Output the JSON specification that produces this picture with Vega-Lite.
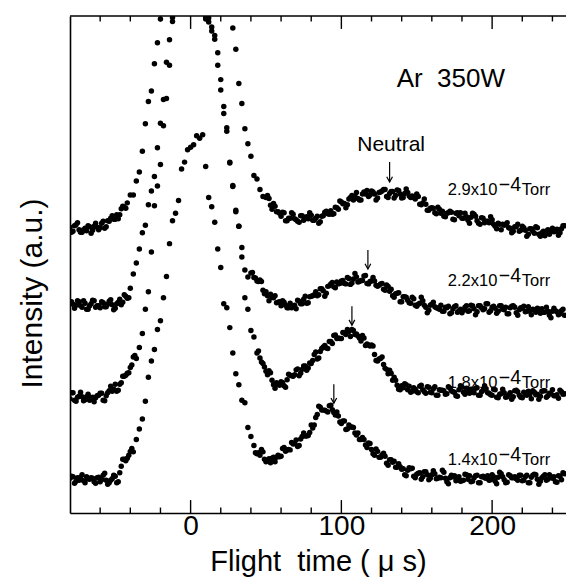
{
"$schema":"https://vega.github.io/schema/vega-lite/v6.json",
"width":496,"height":497,
"autosize":{"type":"none"},
"padding":{"left":70,"top":16,"right":0,"bottom":69},
"background":"white",
"config":{"view":{"stroke":null},"font":"Liberation Sans"},
"resolve":{"axis":{"x":"independent","y":"independent"}},
"layer":[
{"data":{"values":[
{"p":"2.9","t":-80,"v":57.5},{"p":"2.9","t":-78,"v":56.7},{"p":"2.9","t":-76,"v":58.0},{"p":"2.9","t":-74,"v":57.0},{"p":"2.9","t":-72,"v":56.5},{"p":"2.9","t":-70,"v":57.3},{"p":"2.9","t":-68,"v":57.8},{"p":"2.9","t":-66,"v":56.3},{"p":"2.9","t":-64,"v":57.7},{"p":"2.9","t":-62,"v":57.5},{"p":"2.9","t":-60,"v":57.4},{"p":"2.9","t":-58,"v":58.7},{"p":"2.9","t":-56,"v":57.6},{"p":"2.9","t":-54,"v":58.7},{"p":"2.9","t":-52,"v":59.8},{"p":"2.9","t":-50,"v":59.1},{"p":"2.9","t":-48,"v":59.2},{"p":"2.9","t":-46,"v":61.2},{"p":"2.9","t":-44,"v":61.5},{"p":"2.9","t":-42,"v":62.4},{"p":"2.9","t":-40,"v":64.0},{"p":"2.9","t":-38,"v":64.0},{"p":"2.9","t":-36,"v":66.8},{"p":"2.9","t":-34,"v":68.6},{"p":"2.9","t":-32,"v":72.8},{"p":"2.9","t":-30,"v":78.3},{"p":"2.9","t":-28,"v":82.8},{"p":"2.9","t":-26,"v":84.9},{"p":"2.9","t":-24,"v":90.4},{"p":"2.9","t":-22,"v":94.6},{"p":"2.9","t":-20,"v":99.4},
{"p":"2.9","t":28,"v":97.6},{"p":"2.9","t":30,"v":93.3},{"p":"2.9","t":32,"v":86.4},{"p":"2.9","t":34,"v":82.4},{"p":"2.9","t":36,"v":77.3},{"p":"2.9","t":38,"v":74.3},{"p":"2.9","t":40,"v":71.8},{"p":"2.9","t":42,"v":67.9},{"p":"2.9","t":44,"v":67.2},{"p":"2.9","t":46,"v":65.1},{"p":"2.9","t":48,"v":63.7},{"p":"2.9","t":50,"v":63.5},{"p":"2.9","t":52,"v":63.3},{"p":"2.9","t":54,"v":61.1},{"p":"2.9","t":56,"v":61.7},{"p":"2.9","t":58,"v":60.6},{"p":"2.9","t":60,"v":59.7},{"p":"2.9","t":62,"v":60.4},{"p":"2.9","t":64,"v":58.8},{"p":"2.9","t":66,"v":59.3},{"p":"2.9","t":68,"v":60.1},{"p":"2.9","t":70,"v":59.0},{"p":"2.9","t":72,"v":58.5},{"p":"2.9","t":74,"v":59.8},{"p":"2.9","t":76,"v":59.4},{"p":"2.9","t":78,"v":59.2},{"p":"2.9","t":80,"v":59.9},{"p":"2.9","t":82,"v":58.9},{"p":"2.9","t":84,"v":59.7},{"p":"2.9","t":86,"v":58.6},{"p":"2.9","t":88,"v":59.8},{"p":"2.9","t":90,"v":60.7},{"p":"2.9","t":92,"v":60.1},{"p":"2.9","t":94,"v":60.1},{"p":"2.9","t":96,"v":61.5},{"p":"2.9","t":98,"v":61.1},{"p":"2.9","t":100,"v":62.6},{"p":"2.9","t":102,"v":62.3},{"p":"2.9","t":104,"v":62.0},{"p":"2.9","t":106,"v":63.5},{"p":"2.9","t":108,"v":63.0},{"p":"2.9","t":110,"v":64.5},{"p":"2.9","t":112,"v":63.0},{"p":"2.9","t":114,"v":64.2},{"p":"2.9","t":116,"v":64.2},{"p":"2.9","t":118,"v":63.7},{"p":"2.9","t":120,"v":64.8},{"p":"2.9","t":122,"v":64.2},{"p":"2.9","t":124,"v":63.4},{"p":"2.9","t":126,"v":64.6},{"p":"2.9","t":128,"v":65.1},{"p":"2.9","t":130,"v":63.7},{"p":"2.9","t":132,"v":64.3},{"p":"2.9","t":134,"v":64.7},{"p":"2.9","t":136,"v":63.9},{"p":"2.9","t":138,"v":64.9},{"p":"2.9","t":140,"v":63.4},{"p":"2.9","t":142,"v":64.3},{"p":"2.9","t":144,"v":64.5},{"p":"2.9","t":146,"v":63.5},{"p":"2.9","t":148,"v":63.5},{"p":"2.9","t":150,"v":64.2},{"p":"2.9","t":152,"v":62.1},{"p":"2.9","t":154,"v":62.4},{"p":"2.9","t":156,"v":62.1},{"p":"2.9","t":158,"v":60.9},{"p":"2.9","t":160,"v":61.4},{"p":"2.9","t":162,"v":60.4},{"p":"2.9","t":164,"v":61.5},{"p":"2.9","t":166,"v":60.3},{"p":"2.9","t":168,"v":59.7},{"p":"2.9","t":170,"v":60.3},{"p":"2.9","t":172,"v":60.7},{"p":"2.9","t":174,"v":59.1},{"p":"2.9","t":176,"v":60.3},{"p":"2.9","t":178,"v":59.8},{"p":"2.9","t":180,"v":59.3},{"p":"2.9","t":182,"v":60.3},{"p":"2.9","t":184,"v":58.9},{"p":"2.9","t":186,"v":59.5},{"p":"2.9","t":188,"v":60.1},{"p":"2.9","t":190,"v":58.8},{"p":"2.9","t":192,"v":58.1},{"p":"2.9","t":194,"v":59.3},{"p":"2.9","t":196,"v":58.7},{"p":"2.9","t":198,"v":58.4},{"p":"2.9","t":200,"v":59.0},{"p":"2.9","t":202,"v":57.7},{"p":"2.9","t":204,"v":58.3},{"p":"2.9","t":206,"v":57.0},{"p":"2.9","t":208,"v":57.9},{"p":"2.9","t":210,"v":58.4},{"p":"2.9","t":212,"v":57.3},{"p":"2.9","t":214,"v":56.7},{"p":"2.9","t":216,"v":57.6},{"p":"2.9","t":218,"v":56.7},{"p":"2.9","t":220,"v":57.7},{"p":"2.9","t":222,"v":56.9},{"p":"2.9","t":224,"v":56.1},{"p":"2.9","t":226,"v":57.2},{"p":"2.9","t":228,"v":56.3},{"p":"2.9","t":230,"v":57.4},{"p":"2.9","t":232,"v":55.7},{"p":"2.9","t":234,"v":56.7},{"p":"2.9","t":236,"v":56.7},{"p":"2.9","t":238,"v":56.1},{"p":"2.9","t":240,"v":57.3},{"p":"2.9","t":242,"v":56.7},{"p":"2.9","t":244,"v":55.9},{"p":"2.9","t":246,"v":57.2},{"p":"2.9","t":248,"v":57.8},
{"p":"2.9","t":-79,"v":56.5},{"p":"2.9","t":-77,"v":57.8},{"p":"2.9","t":-75,"v":58.4},{"p":"2.9","t":-73,"v":56.5},{"p":"2.9","t":-71,"v":57.0},{"p":"2.9","t":-69,"v":56.8},{"p":"2.9","t":-67,"v":57.6},{"p":"2.9","t":-65,"v":56.9},{"p":"2.9","t":-63,"v":58.3},{"p":"2.9","t":-61,"v":57.0},{"p":"2.9","t":-59,"v":58.3},{"p":"2.9","t":-57,"v":57.3},{"p":"2.9","t":-55,"v":58.8},{"p":"2.9","t":-53,"v":59.3},{"p":"2.9","t":-51,"v":59.1},{"p":"2.9","t":-49,"v":60.0},{"p":"2.9","t":-47,"v":60.0},{"p":"2.9","t":-45,"v":61.7},{"p":"2.9","t":-43,"v":61.3},
{"p":"2.9","t":51,"v":63.9},{"p":"2.9","t":53,"v":61.9},{"p":"2.9","t":55,"v":62.3},{"p":"2.9","t":57,"v":60.6},{"p":"2.9","t":59,"v":60.3},{"p":"2.9","t":61,"v":60.5},{"p":"2.9","t":63,"v":58.8},{"p":"2.9","t":65,"v":59.3},{"p":"2.9","t":67,"v":60.4},{"p":"2.9","t":69,"v":59.2},{"p":"2.9","t":71,"v":58.7},{"p":"2.9","t":73,"v":59.8},{"p":"2.9","t":75,"v":58.9},{"p":"2.9","t":77,"v":59.6},{"p":"2.9","t":79,"v":60.4},{"p":"2.9","t":81,"v":58.9},{"p":"2.9","t":83,"v":59.3},{"p":"2.9","t":85,"v":58.3},{"p":"2.9","t":87,"v":59.7},{"p":"2.9","t":89,"v":60.5},{"p":"2.9","t":91,"v":60.2},{"p":"2.9","t":93,"v":60.8},{"p":"2.9","t":95,"v":60.2},{"p":"2.9","t":97,"v":61.4},{"p":"2.9","t":99,"v":62.8},{"p":"2.9","t":101,"v":62.2},{"p":"2.9","t":103,"v":61.4},{"p":"2.9","t":105,"v":63.2},{"p":"2.9","t":107,"v":63.9},{"p":"2.9","t":109,"v":63.7},{"p":"2.9","t":111,"v":63.3},{"p":"2.9","t":113,"v":63.0},{"p":"2.9","t":115,"v":64.6},{"p":"2.9","t":117,"v":64.9},{"p":"2.9","t":119,"v":64.0},{"p":"2.9","t":121,"v":64.6},{"p":"2.9","t":123,"v":63.0},{"p":"2.9","t":125,"v":64.5},{"p":"2.9","t":127,"v":64.8},{"p":"2.9","t":129,"v":65.1},{"p":"2.9","t":131,"v":63.5},{"p":"2.9","t":133,"v":64.7},{"p":"2.9","t":135,"v":63.4},{"p":"2.9","t":137,"v":65.0},{"p":"2.9","t":139,"v":64.2},{"p":"2.9","t":141,"v":63.5},{"p":"2.9","t":143,"v":65.2},{"p":"2.9","t":145,"v":63.8},{"p":"2.9","t":147,"v":63.8},{"p":"2.9","t":149,"v":63.2},{"p":"2.9","t":151,"v":63.7},{"p":"2.9","t":153,"v":62.0},{"p":"2.9","t":155,"v":63.2},{"p":"2.9","t":157,"v":60.9},{"p":"2.9","t":159,"v":61.3},{"p":"2.9","t":161,"v":61.3},{"p":"2.9","t":163,"v":60.2},{"p":"2.9","t":165,"v":61.1},{"p":"2.9","t":167,"v":60.7},{"p":"2.9","t":169,"v":59.6},{"p":"2.9","t":171,"v":60.4},{"p":"2.9","t":173,"v":60.5},{"p":"2.9","t":175,"v":59.0},{"p":"2.9","t":177,"v":60.4},{"p":"2.9","t":179,"v":60.4},{"p":"2.9","t":181,"v":59.3},{"p":"2.9","t":183,"v":59.6},{"p":"2.9","t":185,"v":58.3},{"p":"2.9","t":187,"v":60.3},{"p":"2.9","t":189,"v":59.7},{"p":"2.9","t":191,"v":58.3},{"p":"2.9","t":193,"v":59.4},{"p":"2.9","t":195,"v":58.4},{"p":"2.9","t":197,"v":58.7},{"p":"2.9","t":199,"v":59.6},{"p":"2.9","t":201,"v":58.1},{"p":"2.9","t":203,"v":57.2},{"p":"2.9","t":205,"v":58.1},{"p":"2.9","t":207,"v":58.1},{"p":"2.9","t":209,"v":58.1},{"p":"2.9","t":211,"v":57.4},{"p":"2.9","t":213,"v":56.4},{"p":"2.9","t":215,"v":57.6},{"p":"2.9","t":217,"v":58.1},{"p":"2.9","t":219,"v":56.9},{"p":"2.9","t":221,"v":57.4},{"p":"2.9","t":223,"v":55.7},{"p":"2.9","t":225,"v":57.2},{"p":"2.9","t":227,"v":56.7},{"p":"2.9","t":229,"v":57.6},{"p":"2.9","t":231,"v":56.1},{"p":"2.9","t":233,"v":56.4},{"p":"2.9","t":235,"v":55.8},{"p":"2.9","t":237,"v":57.0},{"p":"2.9","t":239,"v":56.7},{"p":"2.9","t":241,"v":56.6},{"p":"2.9","t":243,"v":57.1},{"p":"2.9","t":245,"v":56.4},{"p":"2.9","t":247,"v":57.8},
{"p":"2.2","t":-80,"v":42.4},{"p":"2.2","t":-78,"v":42.0},{"p":"2.2","t":-76,"v":41.8},{"p":"2.2","t":-74,"v":42.5},{"p":"2.2","t":-72,"v":41.4},{"p":"2.2","t":-70,"v":42.2},{"p":"2.2","t":-68,"v":41.0},{"p":"2.2","t":-66,"v":42.1},{"p":"2.2","t":-64,"v":42.7},{"p":"2.2","t":-62,"v":41.7},{"p":"2.2","t":-60,"v":41.3},{"p":"2.2","t":-58,"v":42.3},{"p":"2.2","t":-56,"v":41.5},{"p":"2.2","t":-54,"v":42.6},{"p":"2.2","t":-52,"v":41.9},{"p":"2.2","t":-50,"v":41.2},{"p":"2.2","t":-48,"v":42.4},{"p":"2.2","t":-46,"v":41.9},{"p":"2.2","t":-44,"v":43.9},{"p":"2.2","t":-42,"v":43.2},{"p":"2.2","t":-40,"v":45.2},{"p":"2.2","t":-38,"v":48.1},{"p":"2.2","t":-36,"v":50.3},{"p":"2.2","t":-34,"v":53.1},{"p":"2.2","t":-32,"v":56.4},{"p":"2.2","t":-30,"v":57.9},{"p":"2.2","t":-28,"v":62.0},{"p":"2.2","t":-26,"v":64.8},{"p":"2.2","t":-24,"v":67.7},{"p":"2.2","t":-22,"v":73.5},{"p":"2.2","t":-20,"v":78.4},{"p":"2.2","t":-18,"v":83.2},{"p":"2.2","t":-16,"v":90.7},{"p":"2.2","t":-14,"v":95.2},{"p":"2.2","t":-12,"v":99.7},
{"p":"2.2","t":10,"v":99.7},{"p":"2.2","t":12,"v":98.8},{"p":"2.2","t":14,"v":97.8},{"p":"2.2","t":16,"v":96.1},{"p":"2.2","t":18,"v":92.6},{"p":"2.2","t":20,"v":85.1},{"p":"2.2","t":22,"v":80.4},{"p":"2.2","t":24,"v":77.5},{"p":"2.2","t":26,"v":70.6},{"p":"2.2","t":28,"v":65.7},{"p":"2.2","t":30,"v":60.9},{"p":"2.2","t":32,"v":57.7},{"p":"2.2","t":34,"v":53.4},{"p":"2.2","t":36,"v":48.9},{"p":"2.2","t":38,"v":47.5},{"p":"2.2","t":40,"v":48.3},{"p":"2.2","t":42,"v":47.4},{"p":"2.2","t":44,"v":46.7},{"p":"2.2","t":46,"v":46.9},{"p":"2.2","t":48,"v":44.8},{"p":"2.2","t":50,"v":44.5},{"p":"2.2","t":52,"v":42.7},{"p":"2.2","t":54,"v":43.4},{"p":"2.2","t":56,"v":43.7},{"p":"2.2","t":58,"v":42.4},{"p":"2.2","t":60,"v":41.7},{"p":"2.2","t":62,"v":42.4},{"p":"2.2","t":64,"v":41.3},{"p":"2.2","t":66,"v":42.2},{"p":"2.2","t":68,"v":41.6},{"p":"2.2","t":70,"v":41.1},{"p":"2.2","t":72,"v":42.6},{"p":"2.2","t":74,"v":42.1},{"p":"2.2","t":76,"v":43.6},{"p":"2.2","t":78,"v":42.3},{"p":"2.2","t":80,"v":43.6},{"p":"2.2","t":82,"v":43.9},{"p":"2.2","t":84,"v":43.7},{"p":"2.2","t":86,"v":45.1},{"p":"2.2","t":88,"v":44.7},{"p":"2.2","t":90,"v":44.2},{"p":"2.2","t":92,"v":45.7},{"p":"2.2","t":94,"v":46.4},{"p":"2.2","t":96,"v":45.3},{"p":"2.2","t":98,"v":46.1},{"p":"2.2","t":100,"v":46.7},{"p":"2.2","t":102,"v":46.2},{"p":"2.2","t":104,"v":47.4},{"p":"2.2","t":106,"v":46.0},{"p":"2.2","t":108,"v":47.1},{"p":"2.2","t":110,"v":47.5},{"p":"2.2","t":112,"v":46.6},{"p":"2.2","t":114,"v":46.8},{"p":"2.2","t":116,"v":47.8},{"p":"2.2","t":118,"v":46.1},{"p":"2.2","t":120,"v":46.7},{"p":"2.2","t":122,"v":46.7},{"p":"2.2","t":124,"v":45.6},{"p":"2.2","t":126,"v":46.1},{"p":"2.2","t":128,"v":45.0},{"p":"2.2","t":130,"v":45.9},{"p":"2.2","t":132,"v":44.6},{"p":"2.2","t":134,"v":43.7},{"p":"2.2","t":136,"v":44.1},{"p":"2.2","t":138,"v":44.3},{"p":"2.2","t":140,"v":42.5},{"p":"2.2","t":142,"v":43.5},{"p":"2.2","t":144,"v":42.8},{"p":"2.2","t":146,"v":42.2},{"p":"2.2","t":148,"v":43.1},{"p":"2.2","t":150,"v":41.6},{"p":"2.2","t":152,"v":42.2},{"p":"2.2","t":154,"v":42.7},{"p":"2.2","t":156,"v":41.4},{"p":"2.2","t":158,"v":40.8},{"p":"2.2","t":160,"v":42.0},{"p":"2.2","t":162,"v":41.5},{"p":"2.2","t":164,"v":41.2},{"p":"2.2","t":166,"v":41.8},{"p":"2.2","t":168,"v":40.6},{"p":"2.2","t":170,"v":41.3},{"p":"2.2","t":172,"v":40.1},{"p":"2.2","t":174,"v":41.1},{"p":"2.2","t":176,"v":41.7},{"p":"2.2","t":178,"v":40.7},{"p":"2.2","t":180,"v":40.3},{"p":"2.2","t":182,"v":41.4},{"p":"2.2","t":184,"v":40.6},{"p":"2.2","t":186,"v":41.8},{"p":"2.2","t":188,"v":41.1},{"p":"2.2","t":190,"v":40.5},{"p":"2.2","t":192,"v":41.7},{"p":"2.2","t":194,"v":40.9},{"p":"2.2","t":196,"v":42.1},{"p":"2.2","t":198,"v":40.4},{"p":"2.2","t":200,"v":41.4},{"p":"2.2","t":202,"v":41.2},{"p":"2.2","t":204,"v":40.6},{"p":"2.2","t":206,"v":41.7},{"p":"2.2","t":208,"v":40.9},{"p":"2.2","t":210,"v":40.1},{"p":"2.2","t":212,"v":41.3},{"p":"2.2","t":214,"v":41.7},{"p":"2.2","t":216,"v":40.3},{"p":"2.2","t":218,"v":40.9},{"p":"2.2","t":220,"v":41.2},{"p":"2.2","t":222,"v":40.5},{"p":"2.2","t":224,"v":41.5},{"p":"2.2","t":226,"v":39.9},{"p":"2.2","t":228,"v":40.9},{"p":"2.2","t":230,"v":41.2},{"p":"2.2","t":232,"v":40.2},{"p":"2.2","t":234,"v":40.4},{"p":"2.2","t":236,"v":41.4},{"p":"2.2","t":238,"v":39.8},{"p":"2.2","t":240,"v":40.6},{"p":"2.2","t":242,"v":40.7},{"p":"2.2","t":244,"v":39.9},{"p":"2.2","t":246,"v":40.7},{"p":"2.2","t":248,"v":39.8},
{"p":"2.2","t":-79,"v":42.5},{"p":"2.2","t":-77,"v":41.2},{"p":"2.2","t":-75,"v":42.7},{"p":"2.2","t":-73,"v":41.7},{"p":"2.2","t":-71,"v":42.7},{"p":"2.2","t":-69,"v":41.0},{"p":"2.2","t":-67,"v":41.7},{"p":"2.2","t":-65,"v":42.8},{"p":"2.2","t":-63,"v":41.4},{"p":"2.2","t":-61,"v":41.7},{"p":"2.2","t":-59,"v":42.5},{"p":"2.2","t":-57,"v":41.5},{"p":"2.2","t":-55,"v":42.0},{"p":"2.2","t":-53,"v":42.9},{"p":"2.2","t":-51,"v":40.9},{"p":"2.2","t":-49,"v":42.1},{"p":"2.2","t":-47,"v":43.0},{"p":"2.2","t":-45,"v":42.4},{"p":"2.2","t":-43,"v":43.6},{"p":"2.2","t":-41,"v":43.3},
{"p":"2.2","t":41,"v":48.4},{"p":"2.2","t":43,"v":47.3},{"p":"2.2","t":45,"v":46.6},{"p":"2.2","t":47,"v":46.6},{"p":"2.2","t":49,"v":44.1},{"p":"2.2","t":51,"v":43.7},{"p":"2.2","t":53,"v":44.0},{"p":"2.2","t":55,"v":43.3},{"p":"2.2","t":57,"v":42.3},{"p":"2.2","t":59,"v":42.5},{"p":"2.2","t":61,"v":42.7},{"p":"2.2","t":63,"v":41.8},{"p":"2.2","t":65,"v":41.3},{"p":"2.2","t":67,"v":41.3},{"p":"2.2","t":69,"v":41.8},{"p":"2.2","t":71,"v":42.8},{"p":"2.2","t":73,"v":42.1},{"p":"2.2","t":75,"v":43.0},{"p":"2.2","t":77,"v":42.2},{"p":"2.2","t":79,"v":43.5},{"p":"2.2","t":81,"v":43.7},{"p":"2.2","t":83,"v":44.5},{"p":"2.2","t":85,"v":43.9},{"p":"2.2","t":87,"v":45.1},{"p":"2.2","t":89,"v":43.6},{"p":"2.2","t":91,"v":45.6},{"p":"2.2","t":93,"v":46.1},{"p":"2.2","t":95,"v":45.5},{"p":"2.2","t":97,"v":46.5},{"p":"2.2","t":99,"v":46.2},{"p":"2.2","t":101,"v":46.8},{"p":"2.2","t":103,"v":46.1},{"p":"2.2","t":105,"v":47.2},{"p":"2.2","t":107,"v":46.3},{"p":"2.2","t":109,"v":48.2},{"p":"2.2","t":111,"v":46.5},{"p":"2.2","t":113,"v":46.8},{"p":"2.2","t":115,"v":47.7},{"p":"2.2","t":117,"v":46.2},{"p":"2.2","t":119,"v":46.6},{"p":"2.2","t":121,"v":47.4},{"p":"2.2","t":123,"v":45.8},{"p":"2.2","t":125,"v":45.8},{"p":"2.2","t":127,"v":46.2},{"p":"2.2","t":129,"v":44.8},{"p":"2.2","t":131,"v":45.6},{"p":"2.2","t":133,"v":45.0},{"p":"2.2","t":135,"v":43.4},{"p":"2.2","t":137,"v":44.2},{"p":"2.2","t":139,"v":42.5},{"p":"2.2","t":141,"v":43.5},{"p":"2.2","t":143,"v":43.4},{"p":"2.2","t":145,"v":42.3},{"p":"2.2","t":147,"v":43.4},{"p":"2.2","t":149,"v":41.8},{"p":"2.2","t":151,"v":42.0},{"p":"2.2","t":153,"v":43.4},{"p":"2.2","t":155,"v":41.8},{"p":"2.2","t":157,"v":40.3},{"p":"2.2","t":159,"v":41.8},{"p":"2.2","t":161,"v":42.4},{"p":"2.2","t":163,"v":41.3},{"p":"2.2","t":165,"v":41.0},{"p":"2.2","t":167,"v":40.6},{"p":"2.2","t":169,"v":41.4},{"p":"2.2","t":171,"v":41.6},{"p":"2.2","t":173,"v":40.3},{"p":"2.2","t":175,"v":41.5},{"p":"2.2","t":177,"v":40.4},{"p":"2.2","t":179,"v":41.0},{"p":"2.2","t":181,"v":40.8},{"p":"2.2","t":183,"v":41.7},{"p":"2.2","t":185,"v":40.7},{"p":"2.2","t":187,"v":41.7},{"p":"2.2","t":189,"v":39.9},{"p":"2.2","t":191,"v":41.7},{"p":"2.2","t":193,"v":41.3},{"p":"2.2","t":195,"v":41.1},{"p":"2.2","t":197,"v":42.1},{"p":"2.2","t":199,"v":40.7},{"p":"2.2","t":201,"v":41.6},{"p":"2.2","t":203,"v":40.2},{"p":"2.2","t":205,"v":41.7},{"p":"2.2","t":207,"v":41.0},{"p":"2.2","t":209,"v":41.4},{"p":"2.2","t":211,"v":40.1},{"p":"2.2","t":213,"v":41.6},{"p":"2.2","t":215,"v":41.4},{"p":"2.2","t":217,"v":39.8},{"p":"2.2","t":219,"v":41.3},{"p":"2.2","t":221,"v":41.6},{"p":"2.2","t":223,"v":40.6},{"p":"2.2","t":225,"v":40.6},{"p":"2.2","t":227,"v":41.0},{"p":"2.2","t":229,"v":40.4},{"p":"2.2","t":231,"v":41.0},{"p":"2.2","t":233,"v":41.1},{"p":"2.2","t":235,"v":40.4},{"p":"2.2","t":237,"v":40.6},{"p":"2.2","t":239,"v":39.3},{"p":"2.2","t":241,"v":41.2},{"p":"2.2","t":243,"v":40.5},{"p":"2.2","t":245,"v":40.1},{"p":"2.2","t":247,"v":41.0},
{"p":"1.8","t":-80,"v":23.0},{"p":"1.8","t":-78,"v":24.2},{"p":"1.8","t":-76,"v":22.5},{"p":"1.8","t":-74,"v":23.5},{"p":"1.8","t":-72,"v":23.4},{"p":"1.8","t":-70,"v":22.8},{"p":"1.8","t":-68,"v":23.9},{"p":"1.8","t":-66,"v":23.2},{"p":"1.8","t":-64,"v":22.4},{"p":"1.8","t":-62,"v":23.6},{"p":"1.8","t":-60,"v":24.1},{"p":"1.8","t":-58,"v":22.7},{"p":"1.8","t":-56,"v":23.6},{"p":"1.8","t":-54,"v":24.6},{"p":"1.8","t":-52,"v":24.5},{"p":"1.8","t":-50,"v":25.9},{"p":"1.8","t":-48,"v":24.7},{"p":"1.8","t":-46,"v":26.2},{"p":"1.8","t":-44,"v":27.5},{"p":"1.8","t":-42,"v":28.1},{"p":"1.8","t":-40,"v":29.3},{"p":"1.8","t":-38,"v":31.4},{"p":"1.8","t":-36,"v":31.1},{"p":"1.8","t":-34,"v":33.3},{"p":"1.8","t":-32,"v":36.1},{"p":"1.8","t":-30,"v":41.0},{"p":"1.8","t":-28,"v":44.5},{"p":"1.8","t":-26,"v":52.5},{"p":"1.8","t":-24,"v":61.8},{"p":"1.8","t":-22,"v":65.8},{"p":"1.8","t":-20,"v":70.1},{"p":"1.8","t":-18,"v":77.9},{"p":"1.8","t":-16,"v":83.4},{"p":"1.8","t":-14,"v":90.1},{"p":"1.8","t":-12,"v":98.9},
{"p":"1.8","t":10,"v":99.4},{"p":"1.8","t":12,"v":99.6},{"p":"1.8","t":14,"v":97.0},{"p":"1.8","t":16,"v":95.3},{"p":"1.8","t":18,"v":90.1},{"p":"1.8","t":20,"v":87.2},{"p":"1.8","t":22,"v":81.8},{"p":"1.8","t":24,"v":76.8},{"p":"1.8","t":26,"v":70.4},{"p":"1.8","t":28,"v":65.9},{"p":"1.8","t":30,"v":60.6},{"p":"1.8","t":32,"v":57.7},{"p":"1.8","t":34,"v":51.5},{"p":"1.8","t":36,"v":43.3},{"p":"1.8","t":38,"v":41.0},{"p":"1.8","t":40,"v":36.7},{"p":"1.8","t":42,"v":35.4},{"p":"1.8","t":44,"v":32.2},{"p":"1.8","t":46,"v":31.2},{"p":"1.8","t":48,"v":30.1},{"p":"1.8","t":50,"v":28.5},{"p":"1.8","t":52,"v":28.6},{"p":"1.8","t":54,"v":26.7},{"p":"1.8","t":56,"v":25.1},{"p":"1.8","t":58,"v":25.9},{"p":"1.8","t":60,"v":26.4},{"p":"1.8","t":62,"v":25.6},{"p":"1.8","t":64,"v":26.8},{"p":"1.8","t":66,"v":27.7},{"p":"1.8","t":68,"v":27.5},{"p":"1.8","t":70,"v":28.8},{"p":"1.8","t":72,"v":27.6},{"p":"1.8","t":74,"v":28.9},{"p":"1.8","t":76,"v":29.6},{"p":"1.8","t":78,"v":29.2},{"p":"1.8","t":80,"v":30.1},{"p":"1.8","t":82,"v":31.9},{"p":"1.8","t":84,"v":31.0},{"p":"1.8","t":86,"v":32.5},{"p":"1.8","t":88,"v":33.4},{"p":"1.8","t":90,"v":33.2},{"p":"1.8","t":92,"v":34.5},{"p":"1.8","t":94,"v":34.1},{"p":"1.8","t":96,"v":35.8},{"p":"1.8","t":98,"v":35.2},{"p":"1.8","t":100,"v":35.1},{"p":"1.8","t":102,"v":36.2},{"p":"1.8","t":104,"v":36.9},{"p":"1.8","t":106,"v":35.5},{"p":"1.8","t":108,"v":36.7},{"p":"1.8","t":110,"v":36.0},{"p":"1.8","t":112,"v":35.2},{"p":"1.8","t":114,"v":35.7},{"p":"1.8","t":116,"v":33.7},{"p":"1.8","t":118,"v":33.8},{"p":"1.8","t":120,"v":33.8},{"p":"1.8","t":122,"v":31.9},{"p":"1.8","t":124,"v":30.6},{"p":"1.8","t":126,"v":31.1},{"p":"1.8","t":128,"v":29.9},{"p":"1.8","t":130,"v":28.9},{"p":"1.8","t":132,"v":28.7},{"p":"1.8","t":134,"v":26.7},{"p":"1.8","t":136,"v":26.7},{"p":"1.8","t":138,"v":24.9},{"p":"1.8","t":140,"v":25.6},{"p":"1.8","t":142,"v":26.0},{"p":"1.8","t":144,"v":24.8},{"p":"1.8","t":146,"v":24.3},{"p":"1.8","t":148,"v":25.2},{"p":"1.8","t":150,"v":24.4},{"p":"1.8","t":152,"v":25.5},{"p":"1.8","t":154,"v":24.8},{"p":"1.8","t":156,"v":24.1},{"p":"1.8","t":158,"v":25.3},{"p":"1.8","t":160,"v":24.2},{"p":"1.8","t":162,"v":25.4},{"p":"1.8","t":164,"v":23.7},{"p":"1.8","t":166,"v":24.7},{"p":"1.8","t":168,"v":24.6},{"p":"1.8","t":170,"v":24.0},{"p":"1.8","t":172,"v":25.1},{"p":"1.8","t":174,"v":24.4},{"p":"1.8","t":176,"v":23.6},{"p":"1.8","t":178,"v":24.8},{"p":"1.8","t":180,"v":25.3},{"p":"1.8","t":182,"v":23.9},{"p":"1.8","t":184,"v":24.5},{"p":"1.8","t":186,"v":24.9},{"p":"1.8","t":188,"v":24.2},{"p":"1.8","t":190,"v":25.2},{"p":"1.8","t":192,"v":23.7},{"p":"1.8","t":194,"v":24.7},{"p":"1.8","t":196,"v":25.0},{"p":"1.8","t":198,"v":24.1},{"p":"1.8","t":200,"v":23.7},{"p":"1.8","t":202,"v":24.8},{"p":"1.8","t":204,"v":23.2},{"p":"1.8","t":206,"v":24.0},{"p":"1.8","t":208,"v":24.2},{"p":"1.8","t":210,"v":23.4},{"p":"1.8","t":212,"v":24.2},{"p":"1.8","t":214,"v":23.4},{"p":"1.8","t":216,"v":24.7},{"p":"1.8","t":218,"v":23.7},{"p":"1.8","t":220,"v":23.2},{"p":"1.8","t":222,"v":24.0},{"p":"1.8","t":224,"v":24.5},{"p":"1.8","t":226,"v":23.0},{"p":"1.8","t":228,"v":24.3},{"p":"1.8","t":230,"v":23.9},{"p":"1.8","t":232,"v":23.5},{"p":"1.8","t":234,"v":24.6},{"p":"1.8","t":236,"v":23.3},{"p":"1.8","t":238,"v":24.1},{"p":"1.8","t":240,"v":24.8},{"p":"1.8","t":242,"v":23.6},{"p":"1.8","t":244,"v":23.1},{"p":"1.8","t":246,"v":24.4},{"p":"1.8","t":248,"v":24.0},
{"p":"1.8","t":-79,"v":24.2},{"p":"1.8","t":-77,"v":22.7},{"p":"1.8","t":-75,"v":23.3},{"p":"1.8","t":-73,"v":24.3},{"p":"1.8","t":-71,"v":22.6},{"p":"1.8","t":-69,"v":23.4},{"p":"1.8","t":-67,"v":22.7},{"p":"1.8","t":-65,"v":23.3},{"p":"1.8","t":-63,"v":23.2},{"p":"1.8","t":-61,"v":23.7},{"p":"1.8","t":-59,"v":24.1},{"p":"1.8","t":-57,"v":22.6},{"p":"1.8","t":-55,"v":24.2},{"p":"1.8","t":-53,"v":25.5},{"p":"1.8","t":-51,"v":24.9},{"p":"1.8","t":-49,"v":24.5},{"p":"1.8","t":-47,"v":25.9},{"p":"1.8","t":-45,"v":27.5},{"p":"1.8","t":-43,"v":27.7},{"p":"1.8","t":-41,"v":28.2},{"p":"1.8","t":-39,"v":29.8},{"p":"1.8","t":-37,"v":31.7},
{"p":"1.8","t":45,"v":32.6},{"p":"1.8","t":47,"v":30.4},{"p":"1.8","t":49,"v":29.4},{"p":"1.8","t":51,"v":27.8},{"p":"1.8","t":53,"v":28.2},{"p":"1.8","t":55,"v":25.8},{"p":"1.8","t":57,"v":26.2},{"p":"1.8","t":59,"v":25.7},{"p":"1.8","t":61,"v":26.2},{"p":"1.8","t":63,"v":25.3},{"p":"1.8","t":65,"v":27.9},{"p":"1.8","t":67,"v":27.6},{"p":"1.8","t":69,"v":27.8},{"p":"1.8","t":71,"v":29.0},{"p":"1.8","t":73,"v":28.1},{"p":"1.8","t":75,"v":29.6},{"p":"1.8","t":77,"v":28.7},{"p":"1.8","t":79,"v":30.2},{"p":"1.8","t":81,"v":30.7},{"p":"1.8","t":83,"v":32.4},{"p":"1.8","t":85,"v":31.2},{"p":"1.8","t":87,"v":33.1},{"p":"1.8","t":89,"v":33.7},{"p":"1.8","t":91,"v":33.1},{"p":"1.8","t":93,"v":34.5},{"p":"1.8","t":95,"v":35.7},{"p":"1.8","t":97,"v":35.1},{"p":"1.8","t":99,"v":35.1},{"p":"1.8","t":101,"v":36.3},{"p":"1.8","t":103,"v":35.9},{"p":"1.8","t":105,"v":36.5},{"p":"1.8","t":107,"v":36.9},{"p":"1.8","t":109,"v":35.9},{"p":"1.8","t":111,"v":35.6},{"p":"1.8","t":113,"v":34.6},{"p":"1.8","t":115,"v":35.2},{"p":"1.8","t":117,"v":34.0},{"p":"1.8","t":119,"v":33.6},{"p":"1.8","t":121,"v":33.6},{"p":"1.8","t":123,"v":30.7},{"p":"1.8","t":125,"v":31.0},{"p":"1.8","t":127,"v":31.4},{"p":"1.8","t":129,"v":29.1},{"p":"1.8","t":131,"v":28.0},{"p":"1.8","t":133,"v":28.1},{"p":"1.8","t":135,"v":27.3},{"p":"1.8","t":137,"v":25.7},{"p":"1.8","t":139,"v":24.8},{"p":"1.8","t":141,"v":25.2},{"p":"1.8","t":143,"v":25.8},{"p":"1.8","t":145,"v":25.5},{"p":"1.8","t":147,"v":24.5},{"p":"1.8","t":149,"v":24.9},{"p":"1.8","t":151,"v":24.2},{"p":"1.8","t":153,"v":25.7},{"p":"1.8","t":155,"v":24.4},{"p":"1.8","t":157,"v":25.4},{"p":"1.8","t":159,"v":24.3},{"p":"1.8","t":161,"v":25.0},{"p":"1.8","t":163,"v":23.7},{"p":"1.8","t":165,"v":24.8},{"p":"1.8","t":167,"v":24.7},{"p":"1.8","t":169,"v":23.9},{"p":"1.8","t":171,"v":25.4},{"p":"1.8","t":173,"v":24.6},{"p":"1.8","t":175,"v":24.3},{"p":"1.8","t":177,"v":23.5},{"p":"1.8","t":179,"v":25.6},{"p":"1.8","t":181,"v":24.3},{"p":"1.8","t":183,"v":25.1},{"p":"1.8","t":185,"v":24.1},{"p":"1.8","t":187,"v":24.7},{"p":"1.8","t":189,"v":25.1},{"p":"1.8","t":191,"v":23.7},{"p":"1.8","t":193,"v":24.4},{"p":"1.8","t":195,"v":25.6},{"p":"1.8","t":197,"v":24.2},{"p":"1.8","t":199,"v":23.8},{"p":"1.8","t":201,"v":24.9},{"p":"1.8","t":203,"v":23.3},{"p":"1.8","t":205,"v":23.9},{"p":"1.8","t":207,"v":24.9},{"p":"1.8","t":209,"v":23.3},{"p":"1.8","t":211,"v":23.8},{"p":"1.8","t":213,"v":22.9},{"p":"1.8","t":215,"v":24.6},{"p":"1.8","t":217,"v":24.4},{"p":"1.8","t":219,"v":23.3},{"p":"1.8","t":221,"v":24.3},{"p":"1.8","t":223,"v":23.7},{"p":"1.8","t":225,"v":23.9},{"p":"1.8","t":227,"v":24.6},{"p":"1.8","t":229,"v":23.8},{"p":"1.8","t":231,"v":22.9},{"p":"1.8","t":233,"v":24.5},{"p":"1.8","t":235,"v":24.6},{"p":"1.8","t":237,"v":23.6},{"p":"1.8","t":239,"v":24.0},{"p":"1.8","t":241,"v":23.6},{"p":"1.8","t":243,"v":23.8},{"p":"1.8","t":245,"v":24.7},{"p":"1.8","t":247,"v":23.9},
{"p":"1.4","t":-80,"v":7.0},{"p":"1.4","t":-78,"v":7.3},{"p":"1.4","t":-76,"v":6.4},{"p":"1.4","t":-74,"v":6.6},{"p":"1.4","t":-72,"v":7.7},{"p":"1.4","t":-70,"v":6.1},{"p":"1.4","t":-68,"v":6.9},{"p":"1.4","t":-66,"v":7.1},{"p":"1.4","t":-64,"v":6.3},{"p":"1.4","t":-62,"v":7.1},{"p":"1.4","t":-60,"v":6.3},{"p":"1.4","t":-58,"v":7.6},{"p":"1.4","t":-56,"v":6.6},{"p":"1.4","t":-54,"v":6.1},{"p":"1.4","t":-52,"v":6.9},{"p":"1.4","t":-50,"v":7.4},{"p":"1.4","t":-48,"v":6.3},{"p":"1.4","t":-46,"v":9.4},{"p":"1.4","t":-44,"v":10.8},{"p":"1.4","t":-42,"v":11.0},{"p":"1.4","t":-40,"v":12.4},{"p":"1.4","t":-38,"v":12.3},{"p":"1.4","t":-36,"v":14.8},{"p":"1.4","t":-34,"v":16.9},{"p":"1.4","t":-32,"v":18.9},{"p":"1.4","t":-30,"v":22.5},{"p":"1.4","t":-28,"v":27.3},{"p":"1.4","t":-26,"v":30.6},{"p":"1.4","t":-24,"v":32.9},{"p":"1.4","t":-22,"v":36.9},{"p":"1.4","t":-20,"v":38.7},{"p":"1.4","t":-18,"v":43.3},{"p":"1.4","t":-16,"v":47.6},{"p":"1.4","t":-14,"v":54.2},{"p":"1.4","t":-12,"v":58.8},{"p":"1.4","t":-10,"v":60.3},{"p":"1.4","t":-8,"v":62.9},{"p":"1.4","t":-6,"v":69.2},{"p":"1.4","t":-4,"v":70.6},{"p":"1.4","t":-2,"v":73.1},{"p":"1.4","t":0,"v":73.6},{"p":"1.4","t":2,"v":74.1},{"p":"1.4","t":4,"v":75.9},{"p":"1.4","t":6,"v":75.4},{"p":"1.4","t":8,"v":76.1},{"p":"1.4","t":10,"v":69.7},{"p":"1.4","t":12,"v":63.5},{"p":"1.4","t":14,"v":61.6},{"p":"1.4","t":16,"v":58.5},{"p":"1.4","t":18,"v":53.1},{"p":"1.4","t":20,"v":49.4},{"p":"1.4","t":22,"v":42.1},{"p":"1.4","t":24,"v":41.3},{"p":"1.4","t":26,"v":37.3},{"p":"1.4","t":28,"v":32.2},{"p":"1.4","t":30,"v":28.0},{"p":"1.4","t":32,"v":25.8},{"p":"1.4","t":34,"v":22.7},{"p":"1.4","t":36,"v":22.2},{"p":"1.4","t":38,"v":17.2},{"p":"1.4","t":40,"v":15.4},{"p":"1.4","t":42,"v":13.6},{"p":"1.4","t":44,"v":11.9},{"p":"1.4","t":46,"v":11.6},{"p":"1.4","t":48,"v":12.3},{"p":"1.4","t":50,"v":10.3},{"p":"1.4","t":52,"v":10.9},{"p":"1.4","t":54,"v":11.0},{"p":"1.4","t":56,"v":10.3},{"p":"1.4","t":58,"v":11.6},{"p":"1.4","t":60,"v":11.4},{"p":"1.4","t":62,"v":13.2},{"p":"1.4","t":64,"v":12.7},{"p":"1.4","t":66,"v":12.7},{"p":"1.4","t":68,"v":13.9},{"p":"1.4","t":70,"v":14.7},{"p":"1.4","t":72,"v":13.6},{"p":"1.4","t":74,"v":15.4},{"p":"1.4","t":76,"v":15.5},{"p":"1.4","t":78,"v":15.6},{"p":"1.4","t":80,"v":17.7},{"p":"1.4","t":82,"v":17.7},{"p":"1.4","t":84,"v":19.8},{"p":"1.4","t":86,"v":21.3},{"p":"1.4","t":88,"v":20.7},{"p":"1.4","t":90,"v":20.5},{"p":"1.4","t":92,"v":21.6},{"p":"1.4","t":94,"v":20.8},{"p":"1.4","t":96,"v":19.7},{"p":"1.4","t":98,"v":19.5},{"p":"1.4","t":100,"v":18.0},{"p":"1.4","t":102,"v":18.5},{"p":"1.4","t":104,"v":16.9},{"p":"1.4","t":106,"v":17.3},{"p":"1.4","t":108,"v":17.2},{"p":"1.4","t":110,"v":15.7},{"p":"1.4","t":112,"v":14.8},{"p":"1.4","t":114,"v":15.2},{"p":"1.4","t":116,"v":13.7},{"p":"1.4","t":118,"v":14.1},{"p":"1.4","t":120,"v":12.8},{"p":"1.4","t":122,"v":11.6},{"p":"1.4","t":124,"v":12.4},{"p":"1.4","t":126,"v":11.2},{"p":"1.4","t":128,"v":12.0},{"p":"1.4","t":130,"v":10.0},{"p":"1.4","t":132,"v":10.7},{"p":"1.4","t":134,"v":10.2},{"p":"1.4","t":136,"v":9.2},{"p":"1.4","t":138,"v":9.9},{"p":"1.4","t":140,"v":8.8},{"p":"1.4","t":142,"v":7.7},{"p":"1.4","t":144,"v":8.6},{"p":"1.4","t":146,"v":8.9},{"p":"1.4","t":148,"v":7.4},{"p":"1.4","t":150,"v":7.8},{"p":"1.4","t":152,"v":8.1},{"p":"1.4","t":154,"v":7.3},{"p":"1.4","t":156,"v":8.3},{"p":"1.4","t":158,"v":6.7},{"p":"1.4","t":160,"v":7.7},{"p":"1.4","t":162,"v":7.9},{"p":"1.4","t":164,"v":7.0},{"p":"1.4","t":166,"v":7.1},{"p":"1.4","t":168,"v":8.2},{"p":"1.4","t":170,"v":6.3},{"p":"1.4","t":172,"v":7.1},{"p":"1.4","t":174,"v":7.3},{"p":"1.4","t":176,"v":6.5},{"p":"1.4","t":178,"v":7.3},{"p":"1.4","t":180,"v":6.5},{"p":"1.4","t":182,"v":7.8},{"p":"1.4","t":184,"v":6.8},{"p":"1.4","t":186,"v":6.3},{"p":"1.4","t":188,"v":7.1},{"p":"1.4","t":190,"v":7.6},{"p":"1.4","t":192,"v":6.1},{"p":"1.4","t":194,"v":7.4},{"p":"1.4","t":196,"v":7.0},{"p":"1.4","t":198,"v":6.6},{"p":"1.4","t":200,"v":7.7},{"p":"1.4","t":202,"v":6.4},{"p":"1.4","t":204,"v":7.2},{"p":"1.4","t":206,"v":7.9},{"p":"1.4","t":208,"v":6.7},{"p":"1.4","t":210,"v":6.2},{"p":"1.4","t":212,"v":7.5},{"p":"1.4","t":214,"v":7.1},{"p":"1.4","t":216,"v":6.9},{"p":"1.4","t":218,"v":7.6},{"p":"1.4","t":220,"v":6.5},{"p":"1.4","t":222,"v":7.3},{"p":"1.4","t":224,"v":6.1},{"p":"1.4","t":226,"v":7.2},{"p":"1.4","t":228,"v":7.8},{"p":"1.4","t":230,"v":6.8},{"p":"1.4","t":232,"v":6.4},{"p":"1.4","t":234,"v":7.4},{"p":"1.4","t":236,"v":6.6},{"p":"1.4","t":238,"v":7.7},{"p":"1.4","t":240,"v":7.0},{"p":"1.4","t":242,"v":6.3},{"p":"1.4","t":244,"v":7.5},{"p":"1.4","t":246,"v":6.7},{"p":"1.4","t":248,"v":7.9},
{"p":"1.4","t":-79,"v":7.4},{"p":"1.4","t":-77,"v":6.0},{"p":"1.4","t":-75,"v":7.1},{"p":"1.4","t":-73,"v":7.2},{"p":"1.4","t":-71,"v":6.5},{"p":"1.4","t":-69,"v":7.3},{"p":"1.4","t":-67,"v":6.8},{"p":"1.4","t":-65,"v":7.0},{"p":"1.4","t":-63,"v":6.0},{"p":"1.4","t":-61,"v":7.2},{"p":"1.4","t":-59,"v":6.7},{"p":"1.4","t":-57,"v":8.0},{"p":"1.4","t":-55,"v":5.8},{"p":"1.4","t":-53,"v":6.6},{"p":"1.4","t":-51,"v":7.6},{"p":"1.4","t":-49,"v":6.1},{"p":"1.4","t":-47,"v":8.1},{"p":"1.4","t":-45,"v":10.8},{"p":"1.4","t":-43,"v":10.5},{"p":"1.4","t":-41,"v":11.6},{"p":"1.4","t":-39,"v":13.0},
{"p":"1.4","t":43,"v":12.1},{"p":"1.4","t":45,"v":12.1},{"p":"1.4","t":47,"v":12.8},{"p":"1.4","t":49,"v":10.8},{"p":"1.4","t":51,"v":10.6},{"p":"1.4","t":53,"v":10.1},{"p":"1.4","t":55,"v":11.2},{"p":"1.4","t":57,"v":11.2},{"p":"1.4","t":59,"v":11.3},{"p":"1.4","t":61,"v":13.0},{"p":"1.4","t":63,"v":12.4},{"p":"1.4","t":65,"v":12.8},{"p":"1.4","t":67,"v":14.2},{"p":"1.4","t":69,"v":14.0},{"p":"1.4","t":71,"v":13.4},{"p":"1.4","t":73,"v":14.9},{"p":"1.4","t":75,"v":16.1},{"p":"1.4","t":77,"v":15.5},{"p":"1.4","t":79,"v":16.2},{"p":"1.4","t":81,"v":17.1},{"p":"1.4","t":83,"v":19.2},{"p":"1.4","t":85,"v":21.5},{"p":"1.4","t":87,"v":20.7},{"p":"1.4","t":89,"v":20.7},{"p":"1.4","t":91,"v":20.3},{"p":"1.4","t":93,"v":21.7},{"p":"1.4","t":95,"v":20.2},{"p":"1.4","t":97,"v":20.3},{"p":"1.4","t":99,"v":18.3},{"p":"1.4","t":101,"v":18.5},{"p":"1.4","t":103,"v":16.8},{"p":"1.4","t":105,"v":17.7},{"p":"1.4","t":107,"v":17.3},{"p":"1.4","t":109,"v":16.1},{"p":"1.4","t":111,"v":16.1},{"p":"1.4","t":113,"v":14.8},{"p":"1.4","t":115,"v":14.8},{"p":"1.4","t":117,"v":13.2},{"p":"1.4","t":119,"v":14.0},{"p":"1.4","t":121,"v":11.9},{"p":"1.4","t":123,"v":12.9},{"p":"1.4","t":125,"v":11.2},{"p":"1.4","t":127,"v":11.7},{"p":"1.4","t":129,"v":11.4},{"p":"1.4","t":131,"v":9.6},{"p":"1.4","t":133,"v":10.7},{"p":"1.4","t":135,"v":10.4},{"p":"1.4","t":137,"v":9.2},{"p":"1.4","t":139,"v":9.3},{"p":"1.4","t":141,"v":8.9},{"p":"1.4","t":143,"v":7.5},{"p":"1.4","t":145,"v":9.1},{"p":"1.4","t":147,"v":9.0},{"p":"1.4","t":149,"v":7.1},{"p":"1.4","t":151,"v":8.0},{"p":"1.4","t":153,"v":6.8},{"p":"1.4","t":155,"v":8.3},{"p":"1.4","t":157,"v":7.7},{"p":"1.4","t":159,"v":7.0},{"p":"1.4","t":161,"v":8.5},{"p":"1.4","t":163,"v":6.9},{"p":"1.4","t":165,"v":7.2},{"p":"1.4","t":167,"v":8.6},{"p":"1.4","t":169,"v":7.0},{"p":"1.4","t":171,"v":5.9},{"p":"1.4","t":173,"v":7.6},{"p":"1.4","t":175,"v":7.5},{"p":"1.4","t":177,"v":6.8},{"p":"1.4","t":179,"v":6.4},{"p":"1.4","t":181,"v":6.6},{"p":"1.4","t":183,"v":7.7},{"p":"1.4","t":185,"v":7.5},{"p":"1.4","t":187,"v":6.4},{"p":"1.4","t":189,"v":7.5},{"p":"1.4","t":191,"v":6.1},{"p":"1.4","t":193,"v":7.3},{"p":"1.4","t":195,"v":7.1},{"p":"1.4","t":197,"v":7.5},{"p":"1.4","t":199,"v":6.7},{"p":"1.4","t":201,"v":7.3},{"p":"1.4","t":203,"v":5.9},{"p":"1.4","t":205,"v":8.2},{"p":"1.4","t":207,"v":7.3},{"p":"1.4","t":209,"v":6.1},{"p":"1.4","t":211,"v":7.7},{"p":"1.4","t":213,"v":7.1},{"p":"1.4","t":215,"v":7.3},{"p":"1.4","t":217,"v":6.6},{"p":"1.4","t":219,"v":7.6},{"p":"1.4","t":221,"v":6.6},{"p":"1.4","t":223,"v":7.6},{"p":"1.4","t":225,"v":6.1},{"p":"1.4","t":227,"v":7.6},{"p":"1.4","t":229,"v":7.7},{"p":"1.4","t":231,"v":5.8},{"p":"1.4","t":233,"v":7.1},{"p":"1.4","t":235,"v":7.7},{"p":"1.4","t":237,"v":6.8},{"p":"1.4","t":239,"v":7.3},{"p":"1.4","t":241,"v":7.3},{"p":"1.4","t":243,"v":6.2},{"p":"1.4","t":245,"v":7.4},{"p":"1.4","t":247,"v":8.1}
]},
"mark":{"type":"circle","size":30,"color":"black","opacity":1,"clip":true},
"encoding":{
"x":{"field":"t","type":"quantitative","scale":{"domain":[-80,249],"nice":false,"zero":false},
"axis":{"orient":"bottom","values":[0,100,200],"ticks":false,"tickSize":0,"domain":true,"domainColor":"black","domainWidth":1.6,"grid":false,"labelFontSize":28,"labelColor":"black","labelPadding":-1,"labelFlush":false,"title":"Flight\u00a0 time (\u00a0μ s)","titleFontSize":29,"titleFontWeight":"normal","titleColor":"black","titlePadding":7}},
"y":{"field":"v","type":"quantitative","scale":{"domain":[0,100],"nice":false,"zero":false},
"axis":{"orient":"left","labels":false,"ticks":false,"grid":false,"domain":true,"domainColor":"black","domainWidth":1.6,"title":"Intensity (a.u.)","titleFontSize":30,"titleFontWeight":"normal","titleColor":"black","titleX":-29,"titleY":277,"titleBaseline":"alphabetic"}}
}},
{"data":{"values":[
{"t":0,"a":0,"b":2.6},{"t":100,"a":0,"b":2.6},{"t":200,"a":0,"b":2.6},
{"t":-60,"a":0,"b":1.1},{"t":-40,"a":0,"b":1.1},{"t":-20,"a":0,"b":1.1},{"t":20,"a":0,"b":1.1},{"t":40,"a":0,"b":1.1},{"t":60,"a":0,"b":1.1},{"t":80,"a":0,"b":1.1},{"t":120,"a":0,"b":1.1},{"t":140,"a":0,"b":1.1},{"t":160,"a":0,"b":1.1},{"t":180,"a":0,"b":1.1},{"t":220,"a":0,"b":1.1},{"t":240,"a":0,"b":1.1},
{"t":0,"a":100,"b":97.4},{"t":100,"a":100,"b":97.4},{"t":200,"a":100,"b":97.4},
{"t":-60,"a":100,"b":98.9},{"t":-40,"a":100,"b":98.9},{"t":-20,"a":100,"b":98.9},{"t":20,"a":100,"b":98.9},{"t":40,"a":100,"b":98.9},{"t":60,"a":100,"b":98.9},{"t":80,"a":100,"b":98.9},{"t":120,"a":100,"b":98.9},{"t":140,"a":100,"b":98.9},{"t":160,"a":100,"b":98.9},{"t":180,"a":100,"b":98.9},{"t":220,"a":100,"b":98.9},{"t":240,"a":100,"b":98.9}
]},
"mark":{"type":"rule","color":"black","strokeWidth":1.4},
"encoding":{
"x":{"field":"t","type":"quantitative","scale":{"domain":[-80,249],"nice":false,"zero":false},"axis":null},
"y":{"field":"a","type":"quantitative","scale":{"domain":[0,100],"nice":false,"zero":false},"axis":null},
"y2":{"field":"b"}}},
{"data":{"values":[{"v":100}]},
"mark":{"type":"rule","color":"black","strokeWidth":1.6},
"encoding":{"y":{"field":"v","type":"quantitative","scale":{"domain":[0,100],"nice":false,"zero":false},"axis":null}}},
{"data":{"values":[
{"t":132,"v1":70.6,"v2":66.6},{"t":117.6,"v1":52.9,"v2":49.1},{"t":107,"v1":41.6,"v2":37.8},{"t":95,"v1":25.9,"v2":22.1}
]},
"mark":{"type":"rule","color":"black","strokeWidth":1.2},
"encoding":{
"x":{"field":"t","type":"quantitative","scale":{"domain":[-80,249],"nice":false,"zero":false},"axis":null},
"y":{"field":"v1","type":"quantitative","scale":{"domain":[0,100],"nice":false,"zero":false},"axis":null},
"y2":{"field":"v2"}}},
{"data":{"values":[
{"t":132,"v1":70.6,"v2":66.6},{"t":117.6,"v1":52.9,"v2":49.1},{"t":107,"v1":41.6,"v2":37.8},{"t":95,"v1":25.9,"v2":22.1}
]},
"mark":{"type":"point","shape":"M-0.55,-1L0,0L0.55,-1","size":110,"filled":false,"color":"black","strokeWidth":1.2,"opacity":1},
"encoding":{
"x":{"field":"t","type":"quantitative","scale":{"domain":[-80,249],"nice":false,"zero":false},"axis":null},
"y":{"field":"v2","type":"quantitative","scale":{"domain":[0,100],"nice":false,"zero":false},"axis":null}}},
{"data":{"values":[{"t":172.6,"v":85.7,"txt":"Ar\u00a0 350W"}]},
"mark":{"type":"text","fontSize":26,"align":"center","baseline":"alphabetic","color":"black","font":"Liberation Sans"},
"encoding":{
"x":{"field":"t","type":"quantitative","scale":{"domain":[-80,249],"nice":false,"zero":false},"axis":null},
"y":{"field":"v","type":"quantitative","scale":{"domain":[0,100],"nice":false,"zero":false},"axis":null},
"text":{"field":"txt"}}},
{"data":{"values":[{"t":133,"v":72.8,"txt":"Neutral"}]},
"mark":{"type":"text","fontSize":21,"align":"center","baseline":"alphabetic","color":"black","font":"Liberation Sans"},
"encoding":{
"x":{"field":"t","type":"quantitative","scale":{"domain":[-80,249],"nice":false,"zero":false},"axis":null},
"y":{"field":"v","type":"quantitative","scale":{"domain":[0,100],"nice":false,"zero":false},"axis":null},
"text":{"field":"txt"}}},
{"data":{"values":[
{"t":170.6,"v":64.0,"txt":"2.9x10"},{"t":170.6,"v":45.7,"txt":"2.2x10"},{"t":170.6,"v":25.2,"txt":"1.8x10"},{"t":170.6,"v":9.7,"txt":"1.4x10"},
{"t":219.7,"v":64.0,"txt":"Torr"},{"t":219.7,"v":45.7,"txt":"Torr"},{"t":219.7,"v":25.2,"txt":"Torr"},{"t":219.7,"v":9.7,"txt":"Torr"}
]},
"mark":{"type":"text","fontSize":16.5,"align":"left","baseline":"alphabetic","color":"black","font":"Liberation Sans"},
"encoding":{
"x":{"field":"t","type":"quantitative","scale":{"domain":[-80,249],"nice":false,"zero":false},"axis":null},
"y":{"field":"v","type":"quantitative","scale":{"domain":[0,100],"nice":false,"zero":false},"axis":null},
"text":{"field":"txt"}}},
{"data":{"values":[
{"t":204.4,"v":64.7,"txt":"−4"},{"t":204.4,"v":46.4,"txt":"−4"},{"t":204.4,"v":25.9,"txt":"−4"},{"t":204.4,"v":10.4,"txt":"−4"}
]},
"mark":{"type":"text","fontSize":19.5,"align":"left","baseline":"alphabetic","color":"black","font":"Liberation Sans"},
"encoding":{
"x":{"field":"t","type":"quantitative","scale":{"domain":[-80,249],"nice":false,"zero":false},"axis":null},
"y":{"field":"v","type":"quantitative","scale":{"domain":[0,100],"nice":false,"zero":false},"axis":null},
"text":{"field":"txt"}}}
]
}
